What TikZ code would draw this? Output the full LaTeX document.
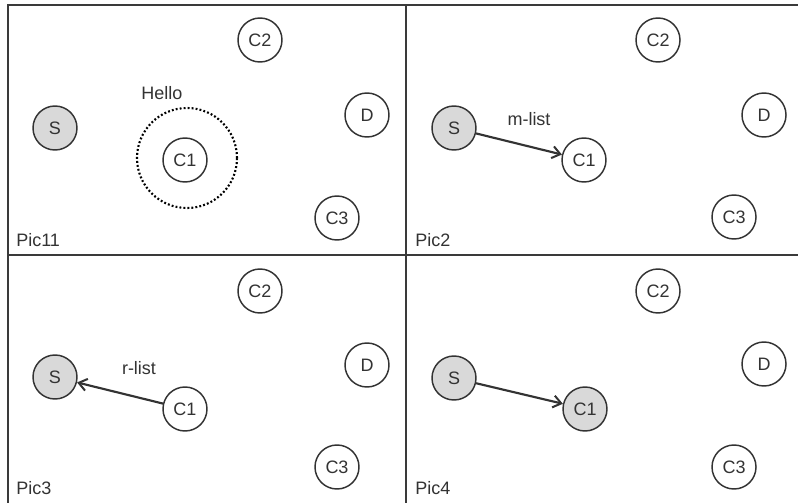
\documentclass[tikz,border=0pt]{standalone}
\usepackage{fontspec}
\setmainfont{Liberation Sans}
\usetikzlibrary{arrows.meta}
\definecolor{ink}{HTML}{333333}
\definecolor{frame}{HTML}{3A3A3A}
\definecolor{nodefill}{HTML}{D9D9D9}
\tikzset{
  nd/.style={circle,draw=ink,line width=1.1pt,minimum size=33pt,inner sep=0pt,text=ink,
    font=\fontsize{13.5}{16}\selectfont},
  src/.style={nd,fill=nodefill},
  lbl/.style={text=ink,font=\fontsize{13.5}{16}\selectfont,inner sep=0pt},
  piclbl/.style={lbl,anchor=west},
  framel/.style={draw=frame,line width=1.6pt},
  msg/.style={draw=ink,line width=1.6pt,-{Straight Barb[length=6pt,width=9pt,line width=1.5pt]}},
  hello/.style={circle,draw=black,line width=1.6pt,dash pattern=on 1.4pt off 1.6pt,minimum size=75pt,inner sep=0pt}
}
\begin{document}
\begin{tikzpicture}[x=0.75pt,y=-0.75pt]
\useasboundingbox (0,0) rectangle (798,503);
\fill[white] (0,0) rectangle (798,503);
% frame
\coordinate (tl) at (8,5);
\coordinate (tr) at (798,5);
\coordinate (bl) at (8,503);
\coordinate (mt) at (406,5);
\coordinate (mb) at (406,503);
\coordinate (ml) at (8,255);
\coordinate (mr) at (798,255);
\draw[framel] (tr) -- (tl) -- (bl);
\draw[framel] (mt) -- (mb);
\draw[framel] (ml) -- (mr);
% Panel 1
\node[hello] (h1) at (187,158) {};
\node[src] (s1) at (55,128) {S};
\node[nd] (ca1) at (185,160) {C1};
\node[nd] (cb1) at (260,40) {C2};
\node[nd] (d1) at (367,115) {D};
\node[nd] (cc1) at (337,218) {C3};
\node[lbl] (hl) at (162,93) {Hello};
\node[piclbl] (p1) at (16,240) {Pic11};
% Panel 2
\node[src] (s2) at (454,128) {S};
\node[nd] (ca2) at (584,160) {C1};
\node[nd] (cb2) at (658,40) {C2};
\node[nd] (d2) at (764,115) {D};
\node[nd] (cc2) at (734,217) {C3};
\node[lbl] (ml2) at (529,119) {m-list};
\node[piclbl] (p2) at (415,240) {Pic2};
\draw[msg] (s2) -- (ca2);
% Panel 3
\node[src] (s3) at (55,377) {S};
\node[nd] (ca3) at (185,409) {C1};
\node[nd] (cb3) at (260,291) {C2};
\node[nd] (d3) at (367,365) {D};
\node[nd] (cc3) at (337,467) {C3};
\node[lbl] (rl3) at (139,368) {r-list};
\node[piclbl] (p3) at (16,488) {Pic3};
\draw[msg] (ca3) -- (s3);
% Panel 4
\node[src] (s4) at (454,378) {S};
\node[src] (ca4) at (585,409) {C1};
\node[nd] (cb4) at (658,291) {C2};
\node[nd] (d4) at (764,364) {D};
\node[nd] (cc4) at (734,467) {C3};
\node[piclbl] (p4) at (415,488) {Pic4};
\draw[msg] (s4) -- (ca4);
\end{tikzpicture}
\end{document}
